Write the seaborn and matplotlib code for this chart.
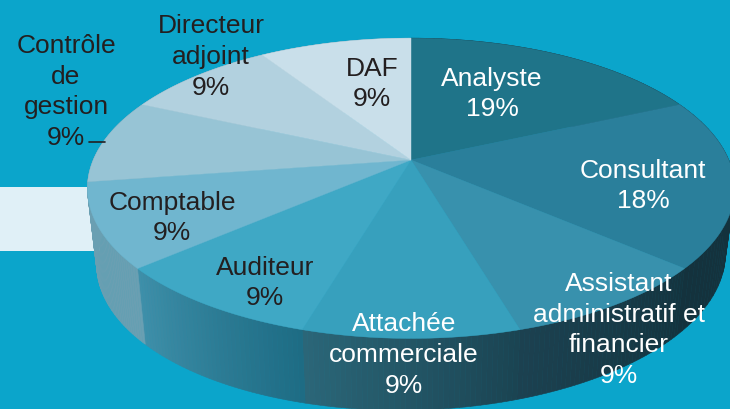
import numpy as np
import matplotlib
matplotlib.use('Agg')
import matplotlib.pyplot as plt
import seaborn as sns

# parts of the pie, 2/11 and 1/11 rounded, printed labels are rounded to add up to 100
categories = ['Analyste', 'Consultant', 'Assistant\nadministratif et\nfinancier', 'Attachée\ncommerciale',
              'Auditeur', 'Comptable', 'Contrôle\nde\ngestion', 'Directeur\nadjoint', 'DAF']
shares = [18.18, 18.18, 9.09, 9.09, 9.09, 9.09, 9.09, 9.09, 9.09]
pct_labels = ['19%', '18%', '9%', '9%', '9%', '9%', '9%', '9%', '9%']

top_colors = ['#1f7489', '#2a7f9b', '#3891ad', '#37a0bd', '#3fa8c5', '#70b6cf', '#97c4d5', '#b2d1df', '#c9dfea']
wall_left = ['#14323d', '#14323d', '#1c4150', '#2b6678', '#3f8fa9', '#6a9fb2', '#6a9fb2', '#6a9fb2', '#6a9fb2']
wall_right = ['#14323d', '#14323d', '#14343f', '#1b4452', '#1e6c84', '#6a9fb2', '#6a9fb2', '#6a9fb2', '#6a9fb2']
text_colors = ['white', 'white', 'white', 'white', '#231f20', '#231f20', '#231f20', '#231f20', '#231f20']
label_pos = [(492, 94), (643, 186), (619, 330), (404, 355), (265, 283), (172, 218), (66, 92), (211, 57), (372, 84)]

BG = '#0ba5cb'
PERSP = 0.185


def project(theta, rx, ry, y0, tilt=0.0):
    # unit circle seen in perspective, theta clockwise from the top
    u, v = np.sin(theta), np.cos(theta)
    w = 1 + PERSP * v
    x = 411 + rx * u / w
    y = y0 - ry * v / w - tilt * (rx * u / w)
    return x, y


sns.set_theme(style='white')
plt.rcParams['font.family'] = ['Liberation Sans', 'DejaVu Sans']

fig = plt.figure(figsize=(7.3, 4.1), dpi=100, facecolor=BG)
ax = fig.add_axes([0, 0, 1, 1])
ax.set_facecolor(BG)
ax.set_xlim(0, 730)
ax.set_ylim(410, 0)
ax.axis('off')

# pale band behind the pie
ax.fill_between([0, 100], 188, 252, color='#e0f0f7', lw=0, zorder=1)

edges = np.concatenate([[0], np.cumsum(shares)]) / np.sum(shares) * 2 * np.pi

# side wall, cut in thin strips for the shading
for i in range(len(shares)):
    n = 40
    ths = np.linspace(edges[i], edges[i + 1], n + 1)
    strip_cols = sns.blend_palette([wall_left[i], wall_right[i]], n)[::-1]
    for j in range(n):
        t = ths[j:j + 2]
        xt, yt = project(t, 318, 145, 161.5)
        xb, yb = project(t, 309, 146, 232, tilt=0.017)
        ax.fill(np.r_[xt, xb[::-1]], np.r_[yt, yb[::-1]], color=strip_cols[j], lw=0.4, zorder=2)

# top face
for i in range(len(shares)):
    ths = np.linspace(edges[i], edges[i + 1], 80)
    x, y = project(ths, 318, 145, 161.5)
    ax.fill(np.r_[411, x], np.r_[161, y], color=top_colors[i], lw=0.3, zorder=3)

for i in range(len(shares)):
    ax.text(label_pos[i][0], label_pos[i][1], categories[i] + '\n' + pct_labels[i], color=text_colors[i],
            fontsize=19, ha='center', va='center', multialignment='center', linespacing=1.36, zorder=5)

# small leader line
ax.plot([89, 105], [143, 143], color='#231f20', lw=1.2, zorder=5)

fig.savefig('out.png', dpi=100, facecolor=BG)
